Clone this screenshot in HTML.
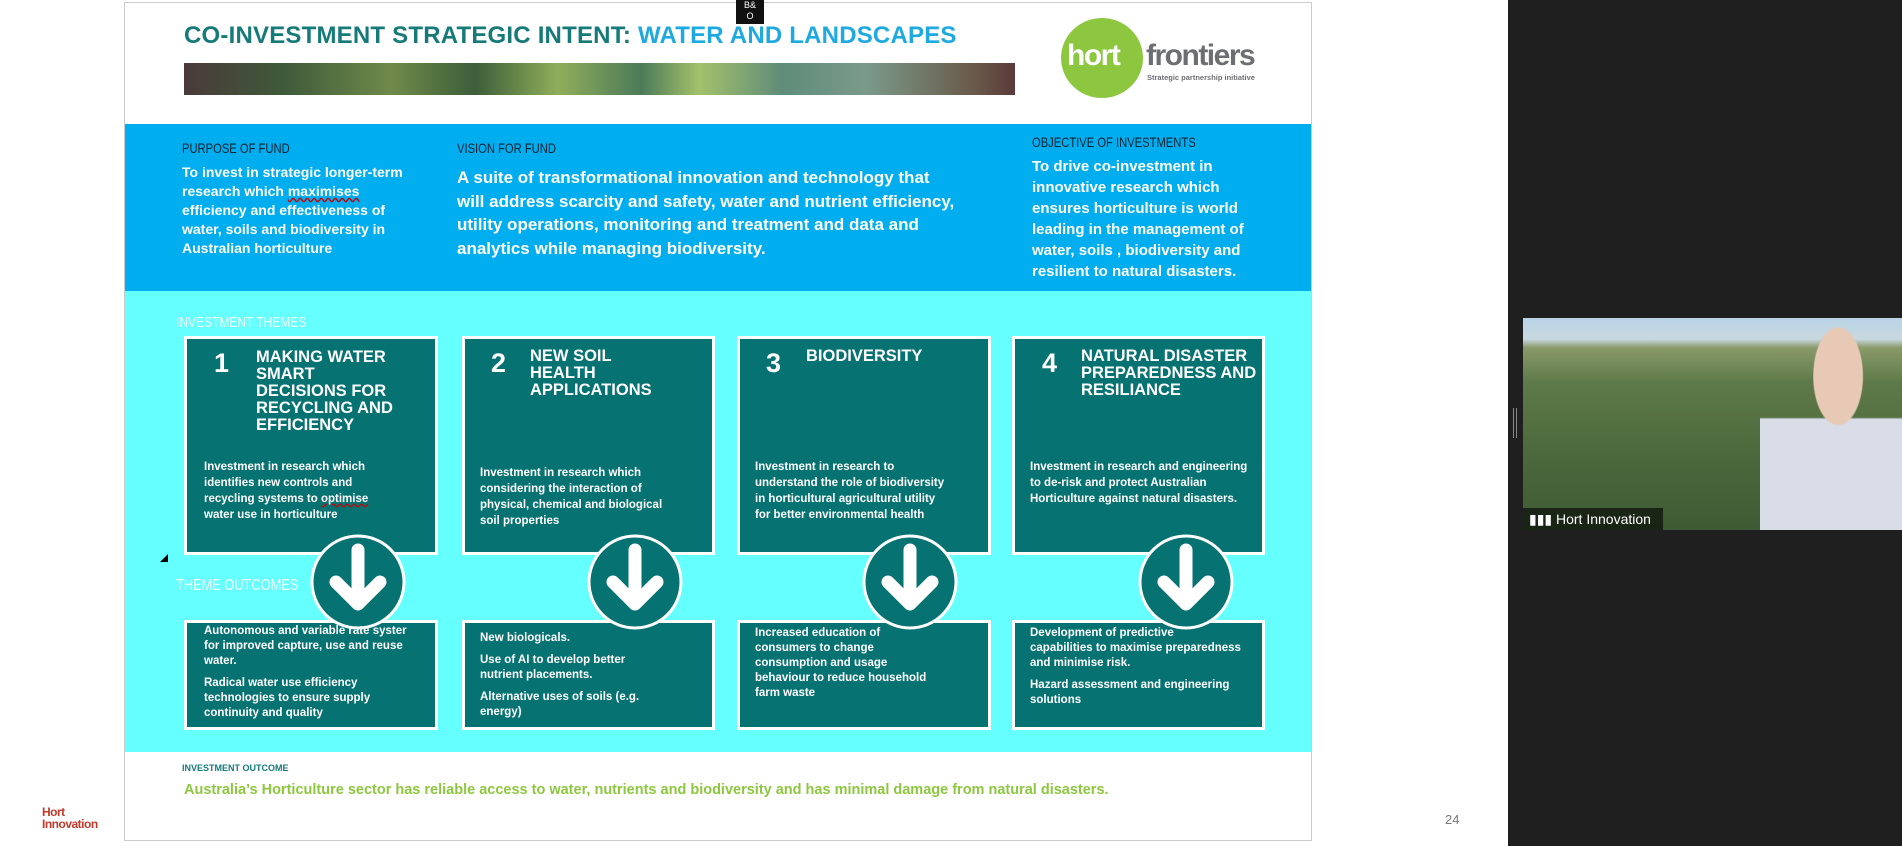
<!DOCTYPE html>
<html><head><meta charset="utf-8"><style>
*{margin:0;padding:0;box-sizing:border-box}
body{width:1902px;height:846px;position:relative;background:#fff;font-family:"Liberation Sans",sans-serif;overflow:hidden}
.a{position:absolute}
.box{position:absolute;background:#077272;border:3px solid #fff}
.num{position:absolute;color:#fff;font-weight:bold;font-size:27px}
.hd{position:absolute;color:#fff;font-weight:bold;font-size:16.5px;line-height:17px}
.bd{position:absolute;color:#fff;font-weight:bold;font-size:11.5px;line-height:16px;white-space:nowrap}
.lbl{position:absolute;font-size:14px;transform:scaleX(0.8);transform-origin:left;white-space:nowrap}
.wt{position:absolute;color:#fff;font-weight:bold;white-space:nowrap}
</style></head><body>
<div class="a" style="left:124px;top:2px;width:1188px;height:839px;border:1px solid #ccc;background:#fff"></div>
<div class="a" style="left:736px;top:0;width:28px;height:24px;background:#111;color:#fff;font-size:9px;text-align:center;line-height:11px">B&amp;<br>O</div>
<div class="a" style="left:184px;top:22px;font-size:24px;font-weight:bold;color:#157a78;white-space:nowrap;letter-spacing:0.2px">CO-INVESTMENT STRATEGIC INTENT: <span style="color:#1ea9e0">WATER AND LANDSCAPES</span></div>
<div class="a" style="left:184px;top:63px;width:831px;height:32px;background:linear-gradient(90deg,#4a3a3a,#3f5a3a 12%,#6f8a4a 25%,#3c5e3a 35%,#8fae5a 45%,#4d7a5a 55%,#a3c16a 62%,#5f8c7a 72%,#7a9a8a 82%,#6a5a4a 95%,#5a3a3a)"></div>
<div class="a" style="left:1061px;top:18px;width:82px;height:80px;border-radius:50%;background:#8dc63f"></div>
<div class="a" style="left:1067px;top:39px;font-size:30px;font-weight:bold;color:#fff;letter-spacing:-1.5px">hort</div>
<div class="a" style="left:1146px;top:39px;font-size:30px;font-weight:bold;color:#6d6e71;letter-spacing:-1.5px">frontiers</div>
<div class="a" style="left:1147px;top:73px;font-size:7.5px;font-weight:bold;color:#6d6e71">Strategic partnership initiative</div>
<div class="a" style="left:125px;top:124px;width:1186px;height:167px;background:#00aeef"></div>
<div class="lbl" style="left:182px;top:140px;color:#123">PURPOSE OF FUND</div>
<div class="lbl" style="left:457px;top:140px;color:#123">VISION FOR FUND</div>
<div class="lbl" style="left:1032px;top:134px;color:#123">OBJECTIVE OF INVESTMENTS</div>
<div class="wt" style="left:182px;top:163px;font-size:14px;line-height:19px">To invest in strategic longer-term<br>research which <span style="text-decoration:underline wavy #c00">maximises</span><br>efficiency and effectiveness of<br>water, soils and biodiversity in<br>Australian horticulture</div>
<div class="wt" style="left:457px;top:166px;font-size:17px;line-height:23.5px">A suite of transformational innovation and technology that<br>will address scarcity and safety, water and nutrient efficiency,<br>utility operations, monitoring and treatment and data and<br>analytics while managing biodiversity.</div>
<div class="wt" style="left:1032px;top:156px;font-size:15px;line-height:21px">To drive co-investment in<br>innovative research which<br>ensures horticulture is world<br>leading in the management of<br>water, soils , biodiversity and<br>resilient to natural disasters.</div>
<div class="a" style="left:125px;top:291px;width:1186px;height:461px;background:#66ffff"></div>
<div class="lbl" style="left:176px;top:314px;color:#f0ffff;font-size:15px">INVESTMENT THEMES</div>
<div class="lbl" style="left:176px;top:577px;color:#f0ffff;font-size:16px">THEME OUTCOMES</div>
<div class="a" style="left:160px;top:554px;width:0;height:0;border-left:8px solid transparent;border-bottom:8px solid #000"></div>
<div class="box" style="left:184px;top:336px;width:254px;height:219px"></div>
<div class="box" style="left:462px;top:336px;width:253px;height:219px"></div>
<div class="box" style="left:737px;top:336px;width:254px;height:219px"></div>
<div class="box" style="left:1012px;top:336px;width:253px;height:219px"></div>
<div class="box" style="left:184px;top:620px;width:254px;height:110px"></div>
<div class="box" style="left:462px;top:620px;width:253px;height:110px"></div>
<div class="box" style="left:737px;top:620px;width:254px;height:110px"></div>
<div class="box" style="left:1012px;top:620px;width:253px;height:110px"></div>
<svg class="a" style="left:0;top:0" width="1902" height="846">
<defs><g id="arr"><path d="M0,-30 L0,22 M-22,2 L0,24 L22,2" stroke="#fff" stroke-width="13" stroke-linecap="round" stroke-linejoin="round" fill="none"/></g></defs>
<g fill="#077272" stroke="#fff" stroke-width="3">
<circle cx="358" cy="582" r="46"/><circle cx="635" cy="582" r="46"/><circle cx="910" cy="582" r="46"/><circle cx="1186" cy="582" r="46"/>
</g>
<use href="#arr" x="358" y="580"/><use href="#arr" x="635" y="580"/><use href="#arr" x="910" y="580"/><use href="#arr" x="1186" y="580"/>
</svg>
<div class="num" style="left:214px;top:348px">1</div>
<div class="hd" style="left:256px;top:349px">MAKING WATER<br>SMART<br>DECISIONS FOR<br>RECYCLING AND<br>EFFICIENCY</div>
<div class="bd" style="left:204px;top:459px">Investment in research which<br>identifies new controls and<br>recycling systems to <span style="text-decoration:underline wavy #c00">optimise</span><br>water use in horticulture</div>
<div class="num" style="left:491px;top:348px">2</div>
<div class="hd" style="left:530px;top:348px">NEW SOIL<br>HEALTH<br>APPLICATIONS</div>
<div class="bd" style="left:480px;top:465px">Investment in research which<br>considering the interaction of<br>physical, chemical and biological<br>soil properties</div>
<div class="num" style="left:766px;top:348px">3</div>
<div class="hd" style="left:806px;top:348px">BIODIVERSITY</div>
<div class="bd" style="left:755px;top:459px">Investment in research to<br>understand the role of biodiversity<br>in horticultural agricultural utility<br>for better environmental health</div>
<div class="num" style="left:1042px;top:348px">4</div>
<div class="hd" style="left:1081px;top:348px">NATURAL DISASTER<br>PREPAREDNESS AND<br>RESILIANCE</div>
<div class="bd" style="left:1030px;top:459px">Investment in research and engineering<br>to de-risk and protect Australian<br>Horticulture against natural disasters.</div>
<div class="bd" style="left:204px;top:624px;line-height:15px">Autonomous and variable rate syster<br>for improved capture, use and reuse<br>water.<br><span style="display:block;height:7px"></span>Radical water use efficiency<br>technologies to ensure supply<br>continuity and quality</div>
<div class="bd" style="left:480px;top:631px;line-height:15px">New biologicals.<br><span style="display:block;height:7px"></span>Use of AI to develop better<br>nutrient placements.<br><span style="display:block;height:7px"></span>Alternative uses of soils (e.g.<br>energy)</div>
<div class="bd" style="left:755px;top:626px;line-height:15px">Increased education of<br>consumers to change<br>consumption and usage<br>behaviour to reduce household<br>farm waste</div>
<div class="bd" style="left:1030px;top:626px;line-height:15px">Development of predictive<br>capabilities to maximise preparedness<br>and minimise risk.<br><span style="display:block;height:7px"></span>Hazard assessment and engineering<br>solutions</div>
<div class="a" style="left:182px;top:763px;font-size:9px;font-weight:bold;color:#157a78">INVESTMENT OUTCOME</div>
<div class="a" style="left:184px;top:782px;font-size:14.5px;font-weight:bold;color:#8dc63f;white-space:nowrap">Australia’s Horticulture sector has reliable access to water, nutrients and biodiversity and has minimal damage from natural disasters.</div>
<div class="a" style="left:1445px;top:812px;font-size:13px;color:#777">24</div>
<div class="a" style="left:42px;top:806px;font-size:12px;font-weight:bold;color:#c0392b;line-height:12px;letter-spacing:-0.5px">Hort<br>Innovation</div>
<div class="a" style="left:1508px;top:0;width:394px;height:846px;background:#1f1f1f"></div>
<div class="a" style="left:1513px;top:408px;width:4px;height:30px;border-left:1px solid #888;border-right:1px solid #888"></div>
<div class="a" style="left:1523px;top:318px;width:379px;height:212px;background:linear-gradient(180deg,#b9d3e6 0%,#c8d8e0 10%,#8a9a6a 14%,#5f7a4a 30%,#4d6b3d 60%,#3e5a34 100%)"></div>
<div class="a" style="left:1760px;top:325px;width:142px;height:205px;background:radial-gradient(ellipse at 55% 25%,#e8c9b5 0 22%,transparent 23%),linear-gradient(180deg,transparent 45%,#d8dde8 46%)"></div>
<div class="a" style="left:1523px;top:508px;width:140px;height:22px;background:rgba(0,0,0,0.6);color:#fff;font-size:14px;line-height:22px;padding-left:6px">▮▮▮ Hort Innovation</div>
</body></html>
